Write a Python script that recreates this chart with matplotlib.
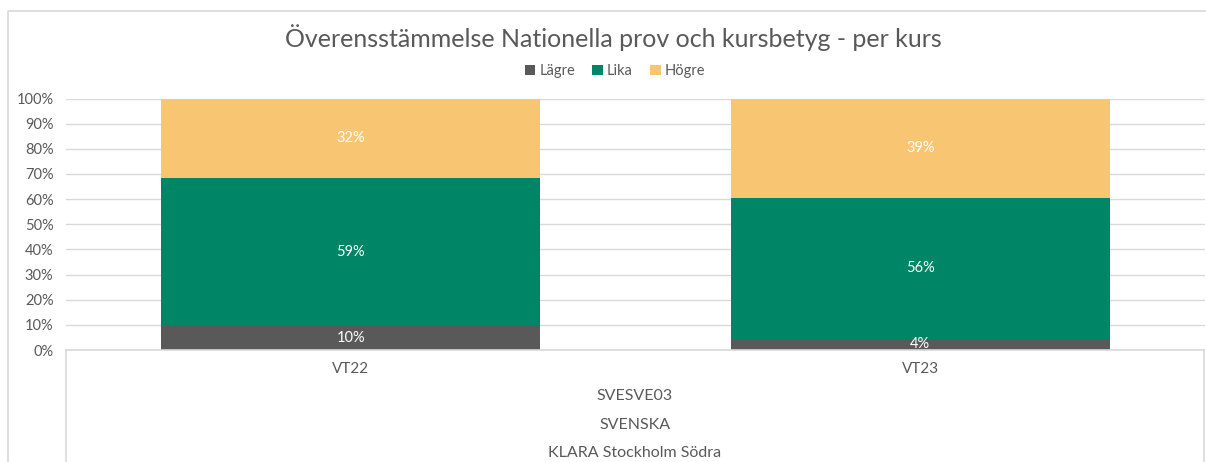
import matplotlib.pyplot as plt
from matplotlib.lines import Line2D

plt.rcParams['font.family'] = ['Lato', 'DejaVu Sans']

# data
kategorier = ['VT22', 'VT23']
nivaer = ['SVESVE03', 'SVENSKA', 'KLARA Stockholm Södra']
serier = ['Lägre', 'Lika', 'Högre']
lagre = [9.8, 4.4]
lika = [58.6, 56.2]
hogre = [31.6, 39.4]
etiketter = {
    'Lägre': ['10%', '4%'],
    'Lika': ['59%', '56%'],
    'Högre': ['32%', '39%'],
}
farger = {'Lägre': '#595959', 'Lika': '#008566', 'Högre': '#F8C672'}
grå = '#595959'
linje = '#D9D9D9'

W, H = 1206, 462
fig = plt.figure(figsize=(W / 100, H / 100), dpi=100)


def fx(px):
    return px / W


def fy(py):
    return 1 - py / H


ax = fig.add_axes([fx(66), fy(350), fx(1205) - fx(66), fy(98.5) - fy(350)])

x = range(len(kategorier))
botten = [0] * len(kategorier)
for namn, vals in zip(serier, [lagre, lika, hogre]):
    ax.bar(x, vals, width=0.666, bottom=botten, color=farger[namn],
           label=namn, zorder=3)
    for i, v in enumerate(vals):
        ax.text(i, botten[i] + v / 2, etiketter[namn][i], color='white',
                ha='center', va='center', fontsize=10.5, zorder=4)
    botten = [b + v for b, v in zip(botten, vals)]

ax.set_xlim(-0.5, 1.5)
ax.set_ylim(0, 100)
ax.set_yticks(range(0, 101, 10))
ax.set_yticklabels([f'{t}%' for t in range(0, 101, 10)])
ax.tick_params(axis='y', length=0, pad=9, labelsize=10.5, labelcolor=grå)
ax.set_xticks([])
for s in ax.spines.values():
    s.set_visible(False)
ax.grid(axis='y', color=linje, linewidth=1, zorder=0)

# category table under the axis
for args in [([fx(66), fx(1204)], [fy(350), fy(350)]),
             ([fx(66), fx(66)], [fy(350), 0]),
             ([fx(1204), fx(1204)], [fy(350), 0])]:
    fig.add_artist(Line2D(*args, color=linje, linewidth=1.2))

for i, k in enumerate(kategorier):
    ax.text(i, -7.5, k, ha='center', va='center', fontsize=11, color=grå)
for yy, t in zip([396, 425, 453], nivaer):
    fig.text(fx(635), fy(yy), t, ha='center', va='center', fontsize=11.5,
             color=grå)

# outer chart border
fig.add_artist(Line2D([fx(8), fx(8), 1], [0, fy(11), fy(11)],
                      color=linje, linewidth=1.2))

fig.text(fx(613), fy(38), 'Överensstämmelse Nationella prov och kursbetyg - per kurs',
         ha='center', va='center', fontsize=18, color=grå)

ax.legend(loc='center', bbox_to_anchor=(fx(615), fy(71)),
          bbox_transform=fig.transFigure, ncol=3, frameon=False,
          fontsize=10.5, labelcolor=grå, handlelength=0.7, handleheight=0.7,
          handletextpad=0.3, columnspacing=1.2)

fig.savefig('out.png', dpi=100)
